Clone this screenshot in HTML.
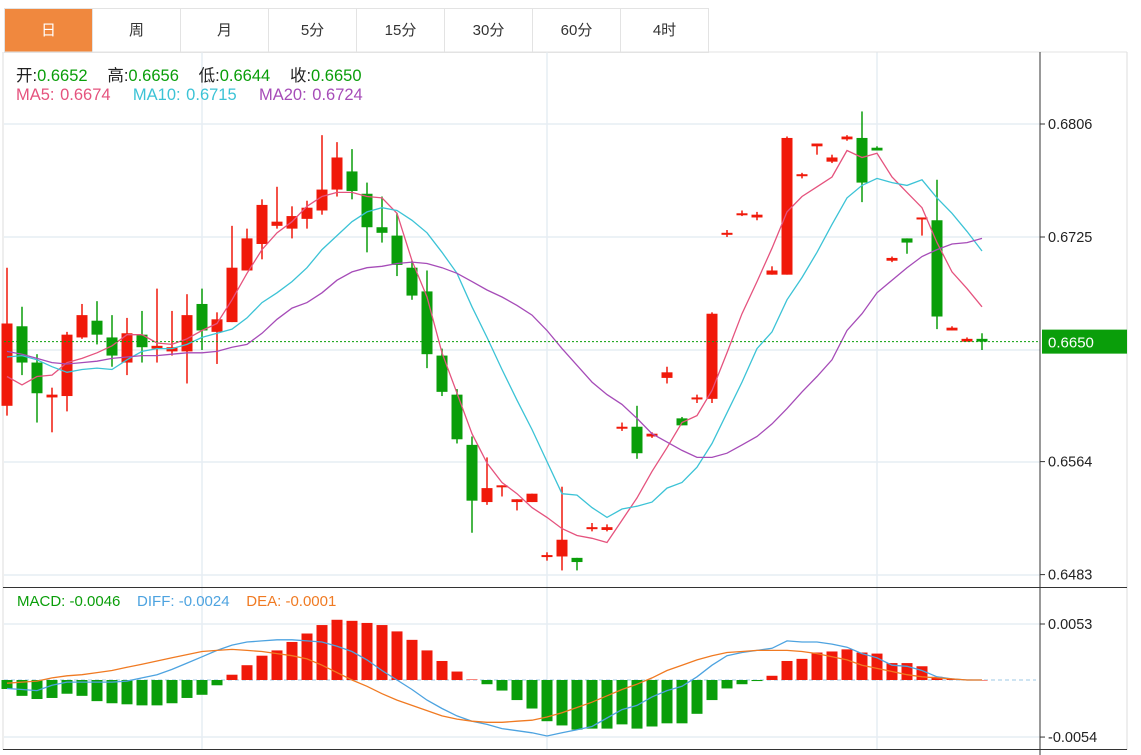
<!DOCTYPE html>
<html><head><meta charset="utf-8">
<style>
body{margin:0;background:#fff;width:1141px;height:755px;overflow:hidden;font-family:"Liberation Sans","Noto Sans CJK SC",sans-serif;}
#tabs{position:absolute;left:4px;top:8px;height:43px;display:flex;border:1px solid #e3e3e3;border-right:none;}
.tab{width:87px;height:43px;line-height:43px;text-align:center;font-size:15px;color:#333;border-right:1px solid #e3e3e3;}
.tab.on{background:#f0883e;color:#fff;}
#hdr1,#hdr2,#hdr3{position:absolute;font-size:15px;white-space:nowrap;}
svg{position:absolute;left:0;top:0;}
</style></head><body>
<div id="tabs">
<div class="tab on">日</div>
<div class="tab">周</div>
<div class="tab">月</div>
<div class="tab">5分</div>
<div class="tab">15分</div>
<div class="tab">30分</div>
<div class="tab">60分</div>
<div class="tab">4时</div>
</div>
<svg id="chart" width="1141" height="755"></svg>
<div id="hdr1" style="left:16px;top:62px;color:#222;font-size:16.5px;word-spacing:2px">开:<span style="color:#0a9e0a">0.6652</span>&nbsp;&nbsp; 高:<span style="color:#0a9e0a">0.6656</span>&nbsp;&nbsp; 低:<span style="color:#0a9e0a">0.6644</span>&nbsp;&nbsp; 收:<span style="color:#0a9e0a">0.6650</span></div>
<div id="hdr2" style="left:16px;top:86px;font-size:16.5px;word-spacing:1px"><span style="color:#e5537e">MA5: 0.6674</span>&nbsp;&nbsp;&nbsp; <span style="color:#3cc3d6">MA10: 0.6715</span>&nbsp;&nbsp;&nbsp; <span style="color:#a64cb8">MA20: 0.6724</span></div>
<div id="hdr3" style="left:17px;top:593px;font-size:15px"><span style="color:#0a9e0a">MACD: -0.0046</span>&nbsp;&nbsp;&nbsp; <span style="color:#4da3e0">DIFF: -0.0024</span>&nbsp;&nbsp;&nbsp; <span style="color:#f07a22">DEA: -0.0001</span></div>
<script>
const opens=[6604,6661,6635,6610,6611,6653,6665,6653,6635,6655,6645,6643,6643,6677,6657,6664,6701,6720,6733,6731,6738,6744,6759,6772,6756,6732,6726,6703,6686,6640,6612,6576,6535,6546,6535,6535,6496,6496,6495,6516,6515,6588,6589,6582,6624,6595,6609,6609,6727,6741,6739,6698,6698,6769,6790,6779,6795,6796,6789,6708,6724,6738,6737,6658,6650,6652];
const closes=[6663,6635,6613,6612,6655,6669,6655,6640,6656,6646,6647,6646,6669,6658,6666,6703,6724,6748,6736,6740,6746,6759,6782,6758,6732,6728,6705,6683,6641,6614,6580,6536,6545,6547,6537,6541,6497,6508,6492,6517,6517,6589,6570,6584,6628,6590,6610,6670,6728,6742,6741,6701,6796,6770,6792,6782,6797,6764,6787,6710,6721,6739,6668,6660,6652,6650];
const highs=[6703,6675,6641,6617,6657,6677,6679,6669,6667,6672,6688,6672,6684,6688,6671,6733,6731,6752,6761,6747,6751,6798,6793,6788,6764,6754,6742,6708,6701,6645,6616,6582,6567,6547,6537,6541,6499,6546,6495,6520,6519,6592,6604,6585,6632,6596,6612,6671,6730,6744,6743,6704,6797,6771,6792,6784,6798,6815,6790,6711,6724,6739,6766,6661,6653,6656];
const lows=[6597,6626,6592,6585,6600,6652,6648,6632,6626,6635,6635,6640,6620,6644,6634,6664,6701,6709,6731,6724,6731,6741,6754,6752,6714,6721,6697,6680,6631,6611,6577,6513,6533,6539,6529,6535,6493,6486,6486,6514,6514,6586,6566,6581,6620,6590,6606,6606,6725,6740,6737,6698,6698,6767,6784,6778,6794,6750,6787,6707,6713,6726,6659,6658,6650,6644];
const ma5=[6625,6619,6625,6626,6635,6638,6642,6647,6655,6655,6649,6648,6652,6658,6663,6680,6699,6716,6728,6736,6747,6754,6757,6757,6754,6753,6742,6708,6682,6642,6613,6584,6563,6549,6541,6531,6524,6516,6511,6509,6506,6522,6538,6557,6574,6592,6597,6615,6642,6670,6693,6717,6743,6754,6761,6768,6787,6782,6785,6768,6757,6746,6721,6700,6688,6675];
const ma10=[6639,6640,6637,6632,6628,6630,6631,6630,6637,6643,6645,6645,6648,6653,6656,6659,6667,6678,6685,6693,6703,6716,6726,6736,6743,6746,6744,6737,6728,6714,6699,6675,6653,6630,6608,6587,6564,6541,6540,6531,6524,6530,6532,6535,6545,6549,6560,6577,6599,6621,6645,6657,6680,6696,6714,6734,6753,6762,6767,6764,6762,6766,6753,6742,6729,6715];
const ma20=[6643,6641,6638,6635,6634,6635,6636,6638,6639,6640,6640,6641,6642,6642,6643,6646,6648,6656,6666,6674,6678,6685,6694,6700,6703,6704,6706,6707,6706,6703,6699,6693,6687,6682,6676,6669,6658,6645,6633,6621,6612,6605,6595,6584,6578,6572,6567,6567,6570,6576,6582,6591,6602,6614,6625,6637,6658,6670,6685,6694,6703,6711,6716,6720,6721,6724];
const macdBars=[-8.5,-15,-18,-17,-13,-15,-20,-22,-23,-24,-24,-22,-17,-14,-5,5,14,23,28,36,44,52,57,56,54,52,46,38,28,18,8,0.5,-4,-10,-19,-27,-39,-43,-47,-46,-46,-42,-46,-44,-41,-41,-32,-19,-8,-4,-1,4,18,20,26,27,29,26,25,16,16,13,3,1,0.5,0];
const diff=[-8,-9,-10,-5,-2,-2,-2,-2,-1,2,5,10,16,22,28,33,36,37,38,38,37,36,32,27,19,9,0,-9,-19,-27,-34,-39,-42,-46,-48,-50,-53,-50,-47,-44,-36,-28,-24,-16,-10,-6,3,14,23,26,28,30,37,36,36,34,31,25,21,14,13,9,3,1,0,0];
const dea=[-3,-2,-1,2,4,5,7,9,12,15,18,21,24,27,28,29,28,27,25,23,20,14,7,0,-6,-13,-19,-24,-29,-34,-37,-39,-40,-40,-39,-38,-35,-31,-26,-21,-15,-9,-4,2,9,14,19,23,26,27,28,28,28,27,25,22,19,14,11,8,5,3,2,1,0,0];
const priceTicks=["0.6806","0.6725","0.6564","0.6483"];
const priceTickVals=[0.6806,0.6725,0.6564,0.6483];
const macdTicks=["0.0053","-0.0054"];
const macdTickVals=[0.0053,-0.0054];
const lastPrice=0.6650;

const NS="http://www.w3.org/2000/svg";
const svg=document.getElementById('chart');
function mk(tag,attrs,parent){const e=document.createElementNS(NS,tag);for(const k in attrs)e.setAttribute(k,attrs[k]);(parent||svg).appendChild(e);return e;}
const xOf=i=>7+i*15;
const yP=p=>124+(0.6806-p)/0.0081*113;
const yM=v=>680-v/0.0053*56;
const P=u=>u/10000;
const RED="#f0190a",GRN="#0a9e0a";

let g;
[124,237,350,462,575,624,737].forEach(y=>{g=mk('line',{x1:4,x2:1040,y1:y,y2:y,stroke:'#e6edf3','stroke-width':1.5});

});
[202,547,877].forEach(x=>{g=mk('line',{x1:x,x2:x,y1:52,y2:750,stroke:'#e6edf3','stroke-width':1.5});

});
g=mk('line',{x1:3,x2:3,y1:52,y2:750,stroke:'#ddd'});


g=mk('line',{x1:1127,x2:1127,y1:52,y2:750,stroke:'#ddd'});


g=mk('line',{x1:4,x2:1127,y1:52,y2:52,stroke:'#e3e3e3'});


g=mk('line',{x1:1040,x2:1040,y1:52,y2:755,stroke:'#333'});


g=mk('line',{x1:3,x2:1127,y1:587.5,y2:587.5,stroke:'#333'});


g=mk('line',{x1:3,x2:1127,y1:749.5,y2:749.5,stroke:'#333'});



priceTickVals.forEach((v,i)=>{const y=yP(v);
g=mk('line',{x1:1040,x2:1045,y1:y,y2:y,stroke:'#333'});


const t=mk('text',{x:1048,y:y+5,'font-size':14.5,fill:'#222','font-family':'Liberation Sans, sans-serif'});t.textContent=priceTicks[i];

});
macdTickVals.forEach((v,i)=>{const y=yM(v);
g=mk('line',{x1:1040,x2:1045,y1:y,y2:y,stroke:'#333'});


const t=mk('text',{x:1048,y:y+5,'font-size':14.5,fill:'#222','font-family':'Liberation Sans, sans-serif'});t.textContent=macdTicks[i];

});

function line(arr,color,name,yf){const pts=arr.map((v,i)=>xOf(i)+','+yf(v).toFixed(1)).join(' ');
const l=mk('polyline',{points:pts,fill:'none',stroke:color,'stroke-width':1.3});

}

opens.forEach((o,i)=>{const c=closes[i],x=xOf(i);const up=c>=o;const col=up?RED:GRN;
const w=mk('line',{x1:x,x2:x,y1:yP(P(highs[i])),y2:yP(P(lows[i])),stroke:col,'stroke-width':1.5});


const t=Math.min(yP(P(o)),yP(P(c))),b=Math.max(yP(P(o)),yP(P(c)));
const r=mk('rect',{x:x-5.5,y:t,width:11,height:Math.max(2,b-t),fill:col});

});
line(ma5.map(P),'#e5537e','ma5-line',yP);
line(ma10.map(P),'#3cc3d6','ma10-line',yP);
line(ma20.map(P),'#a64cb8','ma20-line',yP);

const ly=yP(lastPrice);
g=mk('line',{x1:4,x2:1040,y1:ly,y2:ly,stroke:'#0a9e0a','stroke-dasharray':'2,2'});


g=mk('rect',{x:1042,y:ly-12,width:85,height:24,fill:'#0a9e0a'});


g=mk('text',{x:1048,y:ly+6,'font-size':15,fill:'#fff','font-family':'Liberation Sans, sans-serif'});g.textContent=lastPrice.toFixed(4);



g=mk('line',{x1:4,x2:1036,y1:680,y2:680,stroke:'#9cc8e6','stroke-dasharray':'4,3'});


macdBars.forEach((v,i)=>{const x=xOf(i);const y0=680,y1=yM(P(v));
const r=mk('rect',{x:x-5.5,y:Math.min(y0,y1),width:11,height:Math.max(0.5,Math.abs(y1-y0)),fill:v>=0?RED:GRN});

});
line(diff.map(P),'#4da3e0','diff-line',yM);
line(dea.map(P),'#f07a22','dea-line',yM);
</script>
</body></html>
